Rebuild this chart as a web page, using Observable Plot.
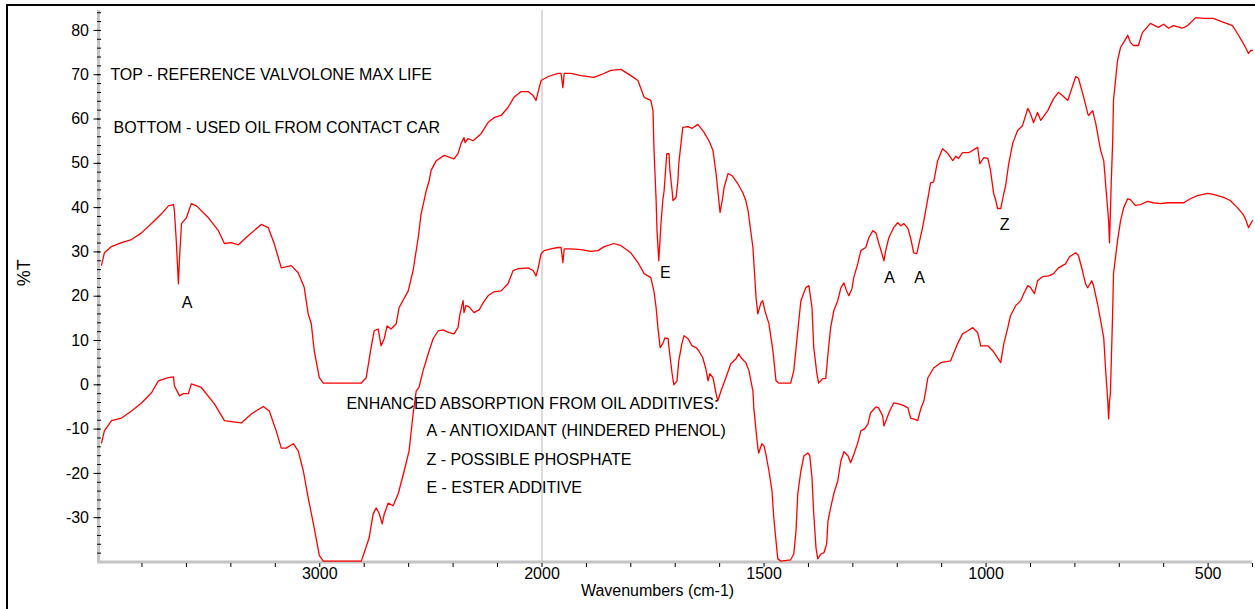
<!DOCTYPE html>
<html>
<head>
<meta charset="utf-8">
<script src="https://cdn.jsdelivr.net/npm/d3@7"></script>
<script src="https://cdn.jsdelivr.net/npm/@observablehq/plot@0.6"></script>
<style>
  html, body { margin: 0; padding: 0; background: #fff; overflow: hidden; }
  #wrap { position: relative; width: 1255px; height: 609px; }
  #frame { position: absolute; left: 6px; top: 4px; width: 1270px; height: 640px; border: 2px solid #000; pointer-events: none; }
</style>
</head>
<body>
<div id="wrap"><div id="frame"></div></div>
<script>
// Reference spectrum (top): [wavenumber cm-1, %T]
const topSpectrum = [[3982,27],[3969,29.8],[3937,31.2],[3892,32.1],[3847,32.8],[3802,34.3],[3757,36.4],[3712,38.6],[3681,40.4],[3658,40.7],[3654,39.3],[3645,32],[3636,22.8],[3631,28.6],[3622,36.4],[3600,37.7],[3578,40.9],[3555,40.4],[3501,37.7],[3456,34.8],[3429,31.9],[3398,32.1],[3366,31.6],[3321,33.7],[3263,36.2],[3232,35.5],[3205,31.9],[3173,26.4],[3128,26.9],[3097,25.3],[3070,22],[3052,16],[3038,13.8],[3025,7.7],[3002,1.6],[2984,0.4],[2813,0.4],[2791,1.6],[2769,8.4],[2755,12.2],[2737,12.6],[2724,8.8],[2710,10.4],[2697,13.3],[2679,12.6],[2656,13.8],[2643,17.4],[2602,21.2],[2580,25.8],[2557,33.2],[2544,38.6],[2521,43.8],[2508,46],[2499,48.4],[2476,50.6],[2440,51.8],[2396,51],[2378,52.2],[2364,54.5],[2351,55.8],[2346,54.7],[2333,55.6],[2310,55.1],[2274,56.7],[2243,59.2],[2216,60.3],[2184,60.8],[2153,62.6],[2126,64.9],[2094,66.2],[2063,66.2],[2040,65.3],[2027,64.2],[2018,66],[2004,68.7],[1986,69.6],[1964,70.3],[1957,70.3],[1953,67.1],[1950,70.3],[1935,70.3],[1912,69.8],[1883,69.4],[1867,70],[1845,71],[1822,71.2],[1800,69.8],[1784,68.7],[1770,64.9],[1755,64.2],[1750,61.9],[1748,53.6],[1743,41.6],[1741,34.8],[1737,28],[1732,36.5],[1728,41.6],[1725,43.8],[1719,52.2],[1714,52.2],[1712,48.4],[1707,43.8],[1705,41.6],[1698,42.3],[1694,46],[1692,49.9],[1683,58.1],[1671,58.3],[1662,57.9],[1649,58.8],[1635,57],[1624,55.1],[1615,52.9],[1608,47.7],[1604,43.8],[1599,38.9],[1593,42.3],[1590,44.5],[1581,47.7],[1572,47.2],[1559,45.4],[1548,43.4],[1541,41.6],[1536,39.3],[1525,31],[1518,19.7],[1514,16],[1507,18.5],[1503,19],[1498,16.7],[1489,13.8],[1480,7.7],[1473,0.9],[1467,0.4],[1440,0.4],[1433,3.2],[1424,12.2],[1417,19],[1406,21.9],[1399,22.4],[1392,17.4],[1388,8.4],[1381,2.5],[1377,0.4],[1368,1.4],[1361,1.4],[1356,7],[1350,12.9],[1343,16.7],[1334,19],[1327,21.9],[1320,23],[1314,21.2],[1309,20.1],[1302,21.7],[1298,24.2],[1289,27.3],[1282,30.3],[1271,31],[1264,33.2],[1255,34.8],[1248,34.3],[1242,32.1],[1235,29.8],[1230,28],[1226,30.3],[1219,33.2],[1208,35.5],[1199,36.6],[1192,35.9],[1185,36.4],[1176,35.3],[1170,33.2],[1163,29.8],[1156,29.6],[1152,31.4],[1143,35.5],[1136,39.3],[1129,43.2],[1125,45.6],[1118,45.8],[1109,50.6],[1098,53.3],[1086,52.2],[1075,50.6],[1068,51.6],[1062,51.1],[1053,52.4],[1039,52.4],[1019,53.6],[1014,49.9],[1005,51.3],[996,51.1],[990,48.4],[983,43.2],[978,41.6],[974,39.8],[967,39.8],[960,43.2],[956,44.9],[949,49.9],[940,54.5],[929,57.4],[918,58.5],[906,62.4],[900,61.2],[893,59.2],[884,61.5],[877,59.7],[861,61.9],[848,64.6],[837,66],[828,65.3],[816,64.2],[807,66.9],[798,69.6],[792,69.2],[780,64.9],[771,61.2],[769,60.8],[760,61.9],[753,59],[742,52.9],[735,50.6],[729,43.2],[724,37.1],[722,32.1],[718,46],[715,54.5],[713,64.2],[704,73.2],[697,76.2],[690,77.3],[681,78.9],[675,77.3],[668,76.6],[657,76.6],[648,79.5],[630,81.6],[612,80.7],[600,81.4],[589,80.5],[578,81.1],[558,80.5],[546,81.1],[528,82.9],[510,82.7],[488,82.7],[465,81.8],[445,81.1],[434,79.3],[422,77.3],[416,76.2],[409,74.8],[404,75.5],[400,75.5]];

// Used oil spectrum (bottom): [wavenumber cm-1, %T]
const bottomSpectrum = [[3982,-13.1],[3969,-10.4],[3937,-8.1],[3892,-7.5],[3847,-5.9],[3802,-4.1],[3757,-1.8],[3726,0.9],[3681,1.6],[3658,1.8],[3654,-0.2],[3631,-2.5],[3613,-2],[3591,-2],[3578,0.2],[3555,-0.2],[3533,-0.6],[3474,-4.3],[3429,-8.1],[3398,-8.3],[3353,-8.6],[3308,-6.6],[3254,-4.9],[3227,-5.9],[3196,-10.4],[3173,-14.3],[3151,-14.3],[3119,-13.3],[3097,-14.9],[3074,-19.4],[3052,-25.5],[3025,-32.3],[3002,-38.5],[2984,-39.8],[2813,-39.8],[2802,-38.2],[2778,-34.6],[2760,-29.2],[2746,-27.8],[2733,-29],[2719,-31.4],[2710,-29.2],[2692,-26.7],[2670,-27.3],[2647,-24.6],[2620,-19.4],[2598,-14.9],[2580,-6.6],[2566,-1.4],[2553,-0.5],[2535,3.2],[2512,7],[2490,10.4],[2467,12.2],[2445,12.4],[2418,11.8],[2396,11.5],[2378,12.9],[2369,16],[2355,19],[2351,16.3],[2342,17.9],[2328,17.6],[2306,16.3],[2283,16.9],[2265,18.5],[2243,20.1],[2216,21],[2184,21.2],[2153,22.8],[2130,25.8],[2108,26.2],[2063,26.4],[2040,25.8],[2027,24.6],[2018,26.2],[2004,29.6],[1995,30.3],[1980,30.7],[1964,31],[1957,31],[1953,27.6],[1950,30.7],[1935,30.7],[1912,30.5],[1890,30.1],[1874,30.3],[1860,31.2],[1838,31.9],[1822,31.4],[1800,29.8],[1784,27.6],[1770,25.1],[1755,24.2],[1748,21.2],[1743,17.4],[1739,12.9],[1734,8.4],[1728,9.3],[1723,10.6],[1716,10.4],[1714,8.4],[1707,2.5],[1703,0],[1696,0.9],[1692,5.4],[1685,9.3],[1680,11.1],[1671,10.4],[1662,8.8],[1653,8.4],[1647,7.7],[1638,6.1],[1631,3.6],[1626,0.9],[1622,2.5],[1615,1.6],[1608,-2],[1604,-3.6],[1597,-1.4],[1586,1.6],[1575,4.7],[1563,5.9],[1557,7],[1552,6.1],[1541,5],[1534,3.2],[1525,-1.4],[1523,-5.2],[1518,-10.4],[1514,-14.2],[1512,-15.4],[1505,-13.3],[1500,-13.8],[1496,-15.6],[1489,-19.4],[1482,-24],[1478,-30],[1473,-35.3],[1469,-39.3],[1462,-39.8],[1440,-39.5],[1433,-38.2],[1428,-33],[1424,-24.6],[1417,-19.4],[1410,-16],[1401,-15.4],[1397,-16],[1392,-21],[1388,-29.2],[1383,-36.8],[1379,-39.3],[1372,-38.2],[1365,-37.9],[1359,-35.9],[1356,-30.7],[1350,-27.8],[1343,-24.6],[1334,-21.7],[1327,-17.2],[1320,-15.1],[1311,-16],[1305,-17.6],[1298,-15.8],[1289,-13.1],[1282,-10.4],[1273,-9.9],[1266,-8.8],[1260,-6.3],[1248,-5],[1242,-5.2],[1233,-7],[1230,-9.3],[1224,-7.7],[1217,-5.9],[1208,-4.1],[1197,-4.3],[1185,-4.7],[1176,-5.2],[1170,-7.5],[1163,-7.7],[1154,-8.1],[1147,-5.4],[1140,-3.6],[1136,-1.4],[1131,1.6],[1118,3.8],[1102,5],[1080,5.4],[1064,9.3],[1053,11.5],[1041,12.2],[1030,12.9],[1019,11.8],[1012,8.8],[996,8.8],[985,7.7],[974,6.1],[967,5],[960,9.3],[951,12.9],[945,15.6],[933,17.9],[922,19],[915,20.6],[906,22.4],[900,22],[891,20.6],[884,23.5],[873,24.4],[859,24.6],[848,25.1],[837,26.4],[821,27.3],[812,28.9],[798,29.8],[792,29.2],[783,25.8],[776,22.8],[771,21.9],[762,23.5],[758,22.4],[749,18.3],[742,14.5],[735,10.6],[731,3.8],[726,-3.6],[724,-7.7],[722,-3.6],[720,-2],[715,16],[713,25.1],[704,32.5],[697,37.1],[690,40],[681,42],[675,41.8],[664,40.5],[652,40.7],[636,41.4],[623,41.1],[607,40.9],[591,41.1],[569,41.1],[555,41.1],[540,42],[524,42.7],[501,43.2],[488,43],[465,42.3],[450,41.6],[434,40],[422,38.6],[416,37.5],[409,35.5],[400,37.1]];

// Axis ticks
const xTickValues = [3800,3600,3400,3200,3000,2800,2600,2400,2200,2000,1900,1800,1700,1600,1500,1400,1300,1200,1100,1000,900,800,700,600,500,400];
const xTickLabels = [3000, 2000, 1500, 1000, 500];
const yMajorTicks = [-30,-20,-10,0,10,20,30,40,50,60,70,80];
const yMinorTicks = d3.range(-38, 85, 2);

// Annotation notes (left aligned): [text, wavenumber, %T]
const notes = [
  ["TOP - REFERENCE VALVOLONE MAX LIFE", 3942, 70],
  ["BOTTOM - USED OIL FROM CONTACT CAR", 3928, 58],
  ["ENHANCED ABSORPTION FROM OIL ADDITIVES:", 2880, -4.4],
  ["A - ANTIOXIDANT (HINDERED PHENOL)", 2520, -10.5],
  ["Z - POSSIBLE PHOSPHATE", 2520, -16.9],
  ["E - ESTER ADDITIVE", 2520, -23.3]
];
// Peak markers (centred): [text, wavenumber, %T]
const peakLabels = [
  ["A", 3597, 18.4],
  ["E", 1722, 25.2],
  ["A", 1217, 24.2],
  ["A", 1150, 24.2],
  ["Z", 958, 36]
];

const chart = Plot.plot({
  width: 1255,
  height: 609,
  marginLeft: 97,
  marginRight: 3,
  marginTop: 10,
  marginBottom: 47.5,
  style: {fontFamily: "'Liberation Sans', Arial, sans-serif", fontSize: "16px", background: "transparent", color: "#000"},
  x: {type: "linear", domain: [4000, 2000, 400], range: [97, 541.5, 1252]},
  y: {domain: [-40, 84.5]},
  marks: [
    Plot.ruleX([2000], {stroke: "#c4c4c4", strokeWidth: 1.2}),
    Plot.ruleY([-40], {stroke: "#c4c4c4", strokeWidth: 3, x1: 4000, x2: 400}),
    Plot.ruleX([4000], {stroke: "#c4c4c4", strokeWidth: 3, dx: 1}),
    Plot.axisX({ticks: xTickValues, tickSize: 4, tickFormat: () => "", label: null, dy: 1.5, stroke: "#000"}),
    Plot.text(xTickLabels, {x: d => d, text: d => String(d), frameAnchor: "bottom", dy: 16.5, fontWeight: d => d === 2000 ? "bold" : "normal", fill: "#000"}),
    Plot.axisY({ticks: yMinorTicks, tickSize: 4, tickFormat: () => "", label: null, dx: 4, stroke: "#000"}),
    Plot.axisY({ticks: yMajorTicks, tickSize: 6, tickPadding: 5, tickFormat: d => String(d), label: null, dx: 2.5, stroke: "#000", fill: "#000"}),
    Plot.line(topSpectrum, {x: d => d[0], y: d => d[1], stroke: "#ff0000", strokeWidth: 1.3}),
    Plot.line(bottomSpectrum, {x: d => d[0], y: d => d[1], stroke: "#ff0000", strokeWidth: 1.3}),
    Plot.text(notes, {x: d => d[1], y: d => d[2], text: d => d[0], textAnchor: "start", fill: "#000"}),
    Plot.text(peakLabels, {x: d => d[1], y: d => d[2], text: d => d[0], textAnchor: "middle", fill: "#000"}),
    Plot.text(["%T"], {frameAnchor: "left", rotate: -90, dx: -73, fill: "#000", fontSize: 18}),
    Plot.text(["Wavenumbers (cm-1)"], {frameAnchor: "bottom", dx: -17.5, dy: 34, fill: "#000", fontSize: 16})
  ]
});
chart.style.position = "absolute";
chart.style.left = "0";
chart.style.top = "0";
document.getElementById("wrap").prepend(chart);
</script>
</body>
</html>
